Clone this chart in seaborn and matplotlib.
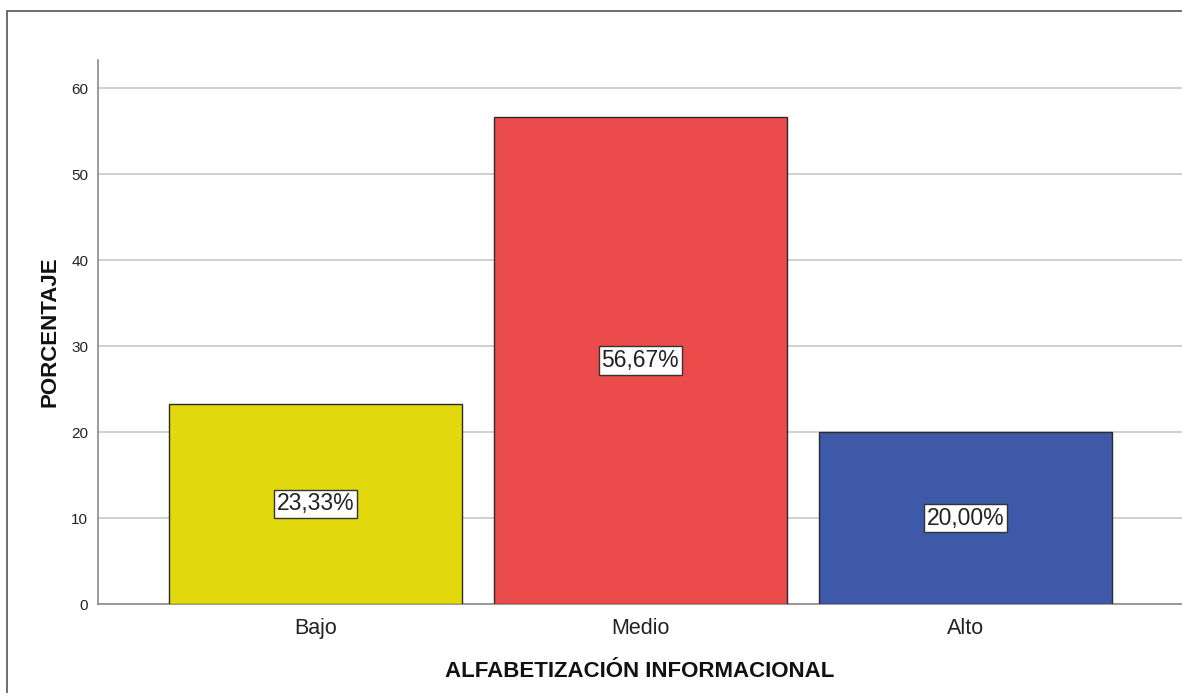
import matplotlib
matplotlib.use("Agg")
import matplotlib.pyplot as plt
import seaborn as sns
import pandas as pd
from matplotlib.patches import Rectangle

categories = ["Bajo", "Medio", "Alto"]
percentages = [23.33, 56.67, 20.00]
labels = ["23,33%", "56,67%", "20,00%"]
colors = ["#E2D80E", "#EC4B4C", "#3E59A8"]
yticks = [0, 10, 20, 30, 40, 50, 60]

sns.set_theme(style="white")
plt.rcParams['font.family'] = ['Liberation Sans', 'DejaVu Sans']

df = pd.DataFrame({"cat": categories, "pct": percentages})

fig = plt.figure(figsize=(11.82, 6.93), dpi=100)
ax = fig.add_axes([98/1182, 1 - 604/693, (1182-98)/1182, (604-60)/693])

sns.barplot(data=df, x="cat", y="pct", hue="cat", palette=colors, order=categories,
            hue_order=categories, width=0.9, edgecolor="#2a2a2a", linewidth=1.0,
            saturation=1, legend=False, ax=ax, zorder=3)

ax.set_xlim(-0.668, 2.666)
ax.set_ylim(0, 63.3)
ax.set_yticks(yticks)
ax.set_yticklabels([str(t) for t in yticks], fontsize=11)
ax.tick_params(axis="y", length=0, pad=7, colors="#222222")
ax.tick_params(axis="x", length=0, pad=10, labelsize=15.5, colors="#222222")
ax.grid(axis="y", color="#c8c8c8", linewidth=1.2, zorder=0)
ax.set_axisbelow(True)
for s in ["top", "right"]:
    ax.spines[s].set_visible(False)
ax.spines["left"].set_color("#8a8a8a")
ax.spines["bottom"].set_color("#8a8a8a")
ax.spines["left"].set_linewidth(1.2)
ax.spines["bottom"].set_linewidth(1.2)

ax.set_xlabel("ALFABETIZACIÓN INFORMACIONAL", fontsize=16, fontweight="bold", labelpad=16, color="#111111")
ax.set_ylabel("PORCENTAJE", fontsize=16, fontweight="bold", labelpad=8, color="#111111")

for i, (v, lab) in enumerate(zip(percentages, labels)):
    ax.text(i, v / 2, lab, ha="center", va="center", fontsize=16.5, color="#222222", zorder=5,
            bbox=dict(boxstyle="square,pad=0.12", facecolor="white", edgecolor="#333333", linewidth=1.0))

# outer frame of the figure
fig.patches.append(Rectangle((7/1182, -0.1), 1.2, 1 - 11/693 + 0.1, transform=fig.transFigure,
                             fill=False, edgecolor="#555555", linewidth=1.2))

fig.savefig("out.png", dpi=100)
